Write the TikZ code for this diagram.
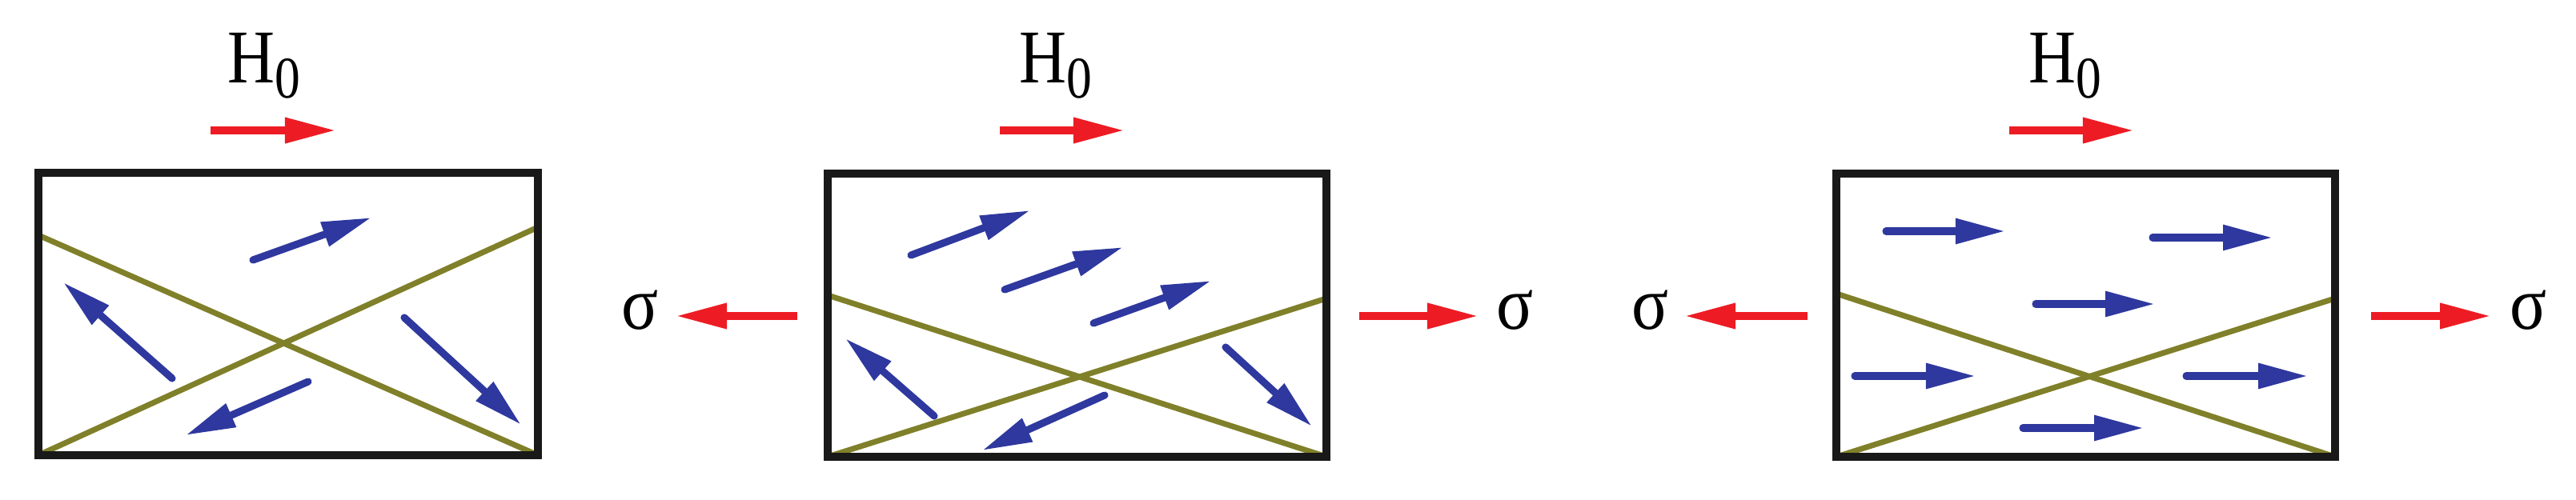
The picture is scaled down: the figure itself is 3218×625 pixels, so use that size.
\documentclass[tikz,border=0pt]{standalone}
\usepackage{fontspec}
\usepackage{graphicx}
\setmainfont{Liberation Serif}
\usetikzlibrary{arrows.meta}
\definecolor{fred}{RGB}{237,28,36}
\definecolor{mblue}{RGB}{46,56,158}
\definecolor{olive2}{RGB}{128,128,42}
\tikzset{
  frame/.style={draw=black!90, line width=2.6pt},
  twin/.style={draw=olive2, line width=2pt},
  field/.style={draw=fred, line width=2.8pt, -{Triangle[length=0.64cm,width=0.3cm]}},
  moment/.style={draw=mblue, fill=mblue, line width=2.6pt, line cap=round, -{Triangle[length=0.62cm,width=0.3cm]}},
  lab/.style={inner sep=0pt, font=\fontsize{27}{30}\selectfont}
}
\newcommand{\hnull}{\scalebox{0.86}[1]{H\raisebox{-0.18cm}{\fontsize{21}{21}\selectfont 0}}}
\newcommand{\sig}{\scalebox{0.9}[1]{σ}}
\begin{document}
\begin{tikzpicture}[x=0.01cm,y=-0.01cm]
\useasboundingbox (0,0) rectangle (3218,625);
% ---------- panel 1 ----------
\node[lab, anchor=base west] (h1) at (284,104) {\hnull};
\draw[field] (263,163) -- (420,163);
\draw[twin] (48,294) -- (672,569);
\draw[twin] (48,569) -- (672,284);
\draw[frame] (48,216) rectangle (672,569);
\draw[moment] (316,325) -- (464,272);
\draw[moment] (215,473) -- (79,353);
\draw[moment] (385,477) -- (232,544);
\draw[moment] (505,397) -- (651,531);
% ---------- panel 2 ----------
\node[lab, anchor=base west] (h2) at (1273,104) {\hnull};
\draw[field] (1249,163) -- (1405,163);
\node[lab, anchor=base] (s2l) at (800,412) {\sig};
\node[lab, anchor=base] (s2r) at (1893,412) {\sig};
\draw[field] (996,395) -- (844,395);
\draw[field] (1698,395) -- (1847,395);
\draw[twin] (1034,369) -- (1657,571);
\draw[twin] (1034,571) -- (1657,373);
\draw[frame] (1034,217) rectangle (1657,571);
\draw[moment] (1138,319) -- (1287,263);
\draw[moment] (1255,362) -- (1403,309);
\draw[moment] (1366,404) -- (1513,351);
\draw[moment] (1167,520) -- (1056,423);
\draw[moment] (1380,494) -- (1227,563);
\draw[moment] (1531,434) -- (1639,533);
% ---------- panel 3 ----------
\node[lab, anchor=base west] (h3) at (2534,104) {\hnull};
\draw[field] (2510,163) -- (2666,163);
\node[lab, anchor=base] (s3l) at (2062,412) {\sig};
\node[lab, anchor=base] (s3r) at (3158,412) {\sig};
\draw[field] (2258,395) -- (2104,395);
\draw[field] (2962,395) -- (3112,395);
\draw[twin] (2294,367) -- (2917,571);
\draw[twin] (2294,571) -- (2917,373);
\draw[frame] (2294,217) rectangle (2917,571);
\draw[moment] (2356,289) -- (2505,289);
\draw[moment] (2689,297) -- (2839,297);
\draw[moment] (2543,380) -- (2692,380);
\draw[moment] (2317,470) -- (2468,470);
\draw[moment] (2731,470) -- (2883,470);
\draw[moment] (2527,535) -- (2678,535);
\end{tikzpicture}
\end{document}
